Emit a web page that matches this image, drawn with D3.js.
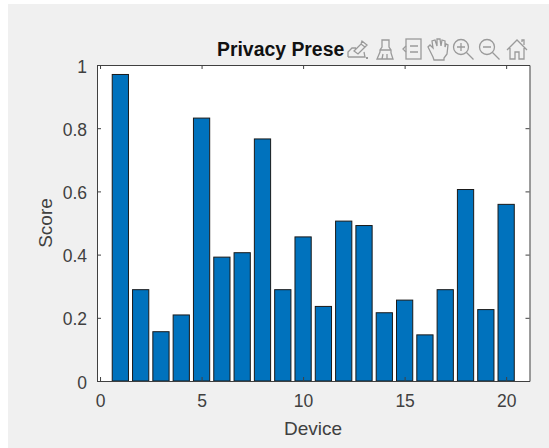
<!DOCTYPE html>
<html>
<head>
<meta charset="utf-8">
<script src="https://cdn.jsdelivr.net/npm/d3@7"></script>
<style>
  html, body { margin: 0; padding: 0; background: #fff; }
  text { font-family: Arial, "Liberation Sans", sans-serif; }
</style>
</head>
<body>
<svg id="chart" width="549" height="448" style="display:block"></svg>
<script>
// values
var devices = d3.range(1, 21);
var scores = [0.97, 0.289, 0.156, 0.209, 0.832, 0.392, 0.406, 0.766, 0.289, 0.456,
              0.236, 0.506, 0.492, 0.216, 0.256, 0.146, 0.289, 0.606, 0.226, 0.559];
var xTicks = [0, 5, 10, 15, 20];
var yTicks = [0, 0.2, 0.4, 0.6, 0.8, 1];

var svg = d3.select("#chart");

// figure background
svg.append("rect").attr("x", 8).attr("y", 4).attr("width", 541).attr("height", 444).attr("fill", "#f0f0f0");

var left = 97, right = 529.5, top_ = 65, bottom = 381;
var x = d3.scaleLinear().domain([-0.15, 21.15]).range([left, right]);
var y = d3.scaleLinear().domain([0, 1]).range([bottom, top_]);

svg.append("rect").attr("x", left).attr("y", top_)
    .attr("width", right - left).attr("height", bottom - top_).attr("fill", "#fff");

// bars
var barW = (x(1) - x(0)) * 0.8;
svg.selectAll("rect.bar").data(devices).enter().append("rect")
    .attr("class", "bar")
    .attr("x", d => x(d) - barW / 2)
    .attr("y", (d, i) => y(scores[i]))
    .attr("width", barW)
    .attr("height", (d, i) => y(0) - y(scores[i]))
    .attr("fill", "#0072bd")
    .attr("stroke", "#1a1a1a")
    .attr("stroke-width", 1);

// axes box with inward ticks
var axisColor = "#404040";
function styleAxis(g) {
    g.select(".domain").attr("stroke", axisColor).attr("stroke-width", 1);
    g.selectAll(".tick line").attr("stroke", axisColor);
    g.selectAll(".tick text").attr("fill", "#404040").attr("font-size", 17.5);
}
svg.append("g").attr("transform", "translate(0," + bottom + ")")
    .call(d3.axisBottom(x).tickValues(xTicks).tickSize(-4).tickSizeOuter(0).tickPadding(14))
    .call(styleAxis);
svg.append("g").attr("transform", "translate(" + left + ",0)")
    .call(d3.axisLeft(y).tickValues(yTicks).tickFormat(d3.format("~g")).tickSize(-4).tickSizeOuter(0).tickPadding(10))
    .call(styleAxis)
    .call(g => g.selectAll(".tick text").attr("dy", "0.4em"));
svg.append("g").attr("transform", "translate(0," + top_ + ")")
    .call(d3.axisTop(x).tickValues(xTicks).tickSize(-4).tickSizeOuter(0).tickFormat(""))
    .call(styleAxis);
svg.append("g").attr("transform", "translate(" + right + ",0)")
    .call(d3.axisRight(y).tickValues(yTicks).tickSize(-4).tickSizeOuter(0).tickFormat(""))
    .call(styleAxis);

// labels
svg.append("text").attr("x", 313).attr("y", 435).attr("text-anchor", "middle")
    .attr("font-size", 19).attr("fill", "#404040").text("Device");
svg.append("text").attr("transform", "translate(52,223) rotate(-90)").attr("text-anchor", "middle")
    .attr("font-size", 19).attr("fill", "#404040").text("Score");
svg.append("text").attr("x", 217).attr("y", 56)
    .attr("font-size", 19.4).attr("font-weight", "bold").attr("fill", "#111").text("Privacy Prese");

// toolbar icons
var icons = svg.append("g").attr("fill", "none").attr("stroke", "#9a9a9a").attr("stroke-width", 1.3);
// pen
icons.append("path").attr("d", "M348 57v-5l4-4h4M348 57h17l-1-5M354 51l7-7 4 3-7 7zM361 44l1-3 5 4-2 2");
icons.append("path").attr("d", "M366 58h2").attr("stroke-width", 2);
// brush
icons.append("path").attr("d", "M382 40h7v7l2 3v3l2 6h-16l3-7v-2l2-3zM380 50h11M382 59l1-5M387 59v-5");
// legend
icons.append("rect").attr("x", 406).attr("y", 39).attr("width", 15).attr("height", 20);
icons.append("path").attr("d", "M410 46h8M410 52h8M406 46l-3 3 3 3");
// hand
icons.append("path").attr("d", "M433 57l-5-10 2-2 3 3-1-7 3-1 2 6v-7h3l1 7 1-6 3 1v6l1-3 2 1-1 9-3 4v2h-10z");
// zoom in
icons.append("circle").attr("cx", 461).attr("cy", 47).attr("r", 7.5);
icons.append("path").attr("d", "M466.5 52.5l7 7M457 47h8M461 43v8");
// zoom out
icons.append("circle").attr("cx", 487).attr("cy", 47).attr("r", 7.5);
icons.append("path").attr("d", "M492.5 52.5l7 7M483 47h8");
// home
icons.append("path").attr("d", "M507 50l10-10 10 10M510 48v11h5v-7h4v7h5v-11M522 42v-2h2v5");
</script>
</body>
</html>
